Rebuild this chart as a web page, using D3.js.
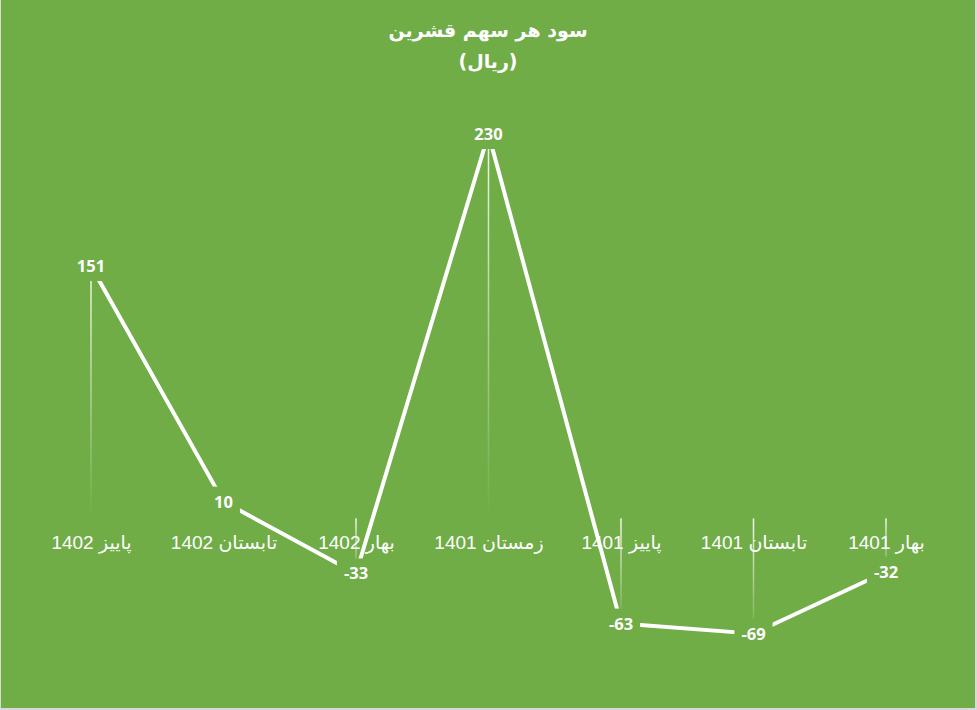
<!DOCTYPE html>
<html>
<head>
<meta charset="utf-8">
<script src="https://cdn.jsdelivr.net/npm/d3@7"></script>
<style>
  html, body { margin: 0; padding: 0; background: #d9d9d9; }
  svg { display: block; }
</style>
</head>
<body>
<svg id="chart" width="977" height="710"></svg>
<script>
const categories = ["پاییز 1402", "تابستان 1402", "بهار 1402", "زمستان 1401", "پاییز 1401", "تابستان 1401", "بهار 1401"];
const values = [151, 10, -33, 230, -63, -69, -32];
const titleLines = ["سود هر سهم قشرین", "(ریال)"];

const W = 977, H = 710;
const bg = "#70AD47";
const svg = d3.select("#chart");

svg.append("rect").attr("x", 1).attr("y", 0).attr("width", 974).attr("height", 708).attr("fill", bg);

const x = d3.scalePoint().domain(categories).range([91, 886]).padding(0);
const y = d3.scaleLinear().domain([-80, 260]).range([652, 83.9]);

const data = categories.map((c, i) => ({ c, v: values[i] }));

// gradient for drop lines
const defs = svg.append("defs");
const grad = defs.append("linearGradient").attr("id", "dropGrad")
  .attr("x1", 0).attr("y1", 0).attr("x2", 0).attr("y2", 1);
grad.append("stop").attr("offset", "0%").attr("stop-color", "#fff").attr("stop-opacity", 0.9);
grad.append("stop").attr("offset", "100%").attr("stop-color", "#fff").attr("stop-opacity", 0);

// drop lines (thin rects so the objectBoundingBox gradient works)
svg.append("g").selectAll("rect").data(data).join("rect")
  .attr("x", d => x(d.c) - 0.75)
  .attr("y", d => Math.min(y(d.v), y(0)))
  .attr("width", 1.5)
  .attr("height", d => Math.abs(y(d.v) - y(0)))
  .attr("fill", "url(#dropGrad)");

// category labels
const xAxis = d3.axisBottom(x).tickSize(0).tickPadding(0);
const gx = svg.append("g").attr("transform", `translate(0, ${y(0) + 17})`).call(xAxis);
gx.select(".domain").remove();
gx.selectAll("text")
  .attr("fill", "#fff")
  .attr("font-family", "'Liberation Sans', Arial, 'DejaVu Sans', sans-serif")
  .attr("font-size", 19)
  .style("direction", "rtl")
  .attr("text-anchor", "middle")
  .attr("dy", "0.71em");

// main line
const line = d3.line().x(d => x(d.c)).y(d => y(d.v));
svg.append("path").datum(data).attr("d", line)
  .attr("fill", "none").attr("stroke", "#fff").attr("stroke-width", 4)
  .attr("stroke-linejoin", "round");

// data labels with background
const lg = svg.append("g").selectAll("g").data(data).join("g")
  .attr("transform", d => `translate(${x(d.c)}, ${y(d.v)})`);
const lt = lg.append("text")
  .attr("text-anchor", "middle").attr("dy", "0.36em")
  .attr("font-family", "'Open Sans', sans-serif").attr("font-weight", "bold")
  .attr("font-size", 16.5).attr("fill", "#fff")
  .text(d => d.v);
lt.each(function() {
  const b = this.getBBox();
  d3.select(this.parentNode).insert("rect", "text")
    .attr("x", b.x - 7).attr("y", -15).attr("width", b.width + 14).attr("height", 30)
    .attr("fill", bg);
});

// title
const tt = svg.append("text").attr("x", 488).attr("y", 37)
  .attr("text-anchor", "middle").attr("fill", "#fff")
  .attr("font-family", "'DejaVu Sans', sans-serif").attr("font-weight", "bold")
  .attr("font-size", 19).style("direction", "rtl");
tt.selectAll("tspan").data(titleLines).join("tspan")
  .attr("x", 488).attr("dy", (d, i) => i === 0 ? 0 : 31).text(d => d);
</script>
</body>
</html>
